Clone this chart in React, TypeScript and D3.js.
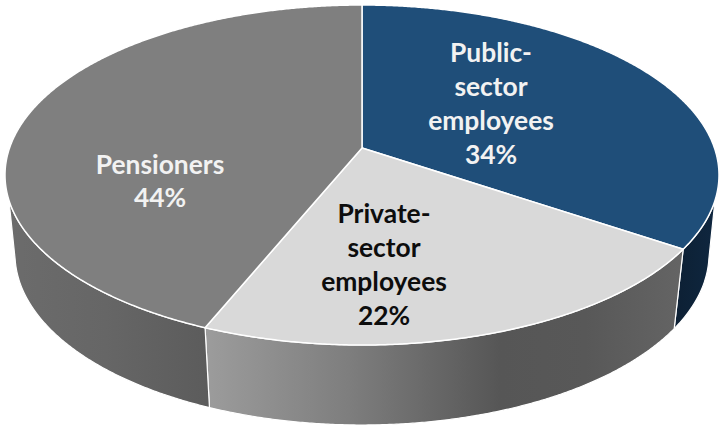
import React from "react";
import * as d3 from "d3";

const categories = ["Public-sector employees", "Private-sector employees", "Pensioners"];
const categoryLines = [["Public-", "sector", "employees"], ["Private-", "sector", "employees"], ["Pensioners"]];
const shares = [34.4, 21.8, 43.8];

const topColors = ["#1f4e79", "#d9d9d9", "#7f7f7f"];
const textColors = ["#f2f2f2", "#0d0d0d", "#f2f2f2"];

const W = 721, H = 427;
// Perspective of the disc: the pie centre sits above the centre of the ellipse.
const K = 0.159;
const VISIBLE_TOP = 0.147;
const VISIBLE_BOTTOM = 0.03;
const xTop = d3.scaleLinear().domain([-1, 1]).range([5, 719]);
const yTop = d3.scaleLinear().domain([-1, 1]).range([5, 345]);
const xBottom = d3.scaleLinear().domain([-1, 1]).range([15, 709]);
const yBottom = d3.scaleLinear().domain([-1, 1]).range([83, 425]);

const project = (theta: number): [number, number] => {
  const x = Math.sin(theta), y = -Math.cos(theta);
  const d = 1 - K * y;
  return [(x * Math.sqrt(1 - K * K)) / d, (y - K) / d];
};

const pieGen = d3.pie<number>().sort(null).startAngle(0).endAngle(2 * Math.PI);
const arcs = pieGen(shares);

const samples = (a: number, b: number) => {
  const n = Math.max(2, Math.ceil(((b - a) * 180) / Math.PI) * 3);
  return d3.range(n + 1).map((i) => project(a + ((b - a) * i) / n));
};

const topPath = (a: number, b: number) => {
  const pts: [number, number][] = samples(a, b).map(([x, y]) => [xTop(x), yTop(y)]);
  return d3.line()([[xTop(0), yTop(-K)], ...pts]) + "Z";
};

const wallPath = (a: number, b: number) => {
  const s = samples(a, b);
  const upper: [number, number][] = s.filter(([, y]) => y >= VISIBLE_TOP).map(([x, y]) => [xTop(x), yTop(y)]);
  const lower = s.filter(([, y]) => y >= VISIBLE_BOTTOM).map(([x, y]) => [xBottom(x), yBottom(y)]).reverse() as [number, number][];
  return d3.line()([...upper, ...lower]) + "Z";
};

const labelAnchors: { x: number; y: number }[] = [
  { x: 491, y: 62 },
  { x: 384, y: 223 },
  { x: 160, y: 174 },
];
const LINE_HEIGHT = 34;

export default function App() {
  return (
    <svg width={W} height={H} viewBox={`0 0 ${W} ${H}`} style={{ position: "absolute", left: 0, top: 0, background: "#fff" }}>
      <defs>
        <linearGradient id="wall0" gradientUnits="userSpaceOnUse" x1={675} x2={719} y1={0} y2={0}>
          <stop offset="0" stopColor="#0d2034" />
          <stop offset="1" stopColor="#0f2740" />
        </linearGradient>
        <linearGradient id="wall1" gradientUnits="userSpaceOnUse" x1={206} x2={680} y1={0} y2={0}>
          <stop offset="0" stopColor="#9c9c9c" />
          <stop offset="0.3" stopColor="#7e7e7e" />
          <stop offset="0.62" stopColor="#565656" />
          <stop offset="0.8" stopColor="#585858" />
          <stop offset="1" stopColor="#646464" />
        </linearGradient>
        <linearGradient id="wall2" gradientUnits="userSpaceOnUse" x1={5} x2={206} y1={0} y2={0}>
          <stop offset="0" stopColor="#6c6c6c" />
          <stop offset="0.5" stopColor="#666666" />
          <stop offset="1" stopColor="#5c5c5c" />
        </linearGradient>
      </defs>
      {arcs.map((d, i) => (
        <path key={`w${i}`} d={wallPath(d.startAngle, d.endAngle)} fill={`url(#wall${i})`} stroke="#fff" strokeWidth={1.2} strokeLinejoin="round" />
      ))}
      {arcs.map((d, i) => (
        <path key={categories[i]} d={topPath(d.startAngle, d.endAngle)} fill={topColors[i]} stroke="#fff" strokeWidth={1.5} strokeLinejoin="round" />
      ))}
      {arcs.map((d, i) => (
        <text key={`t${i}`} textAnchor="middle" fontFamily="Lato, 'Open Sans', sans-serif" fontWeight={700} fontSize={26.4} fill={textColors[i]}>
          {[...categoryLines[i], `${Math.round(d.data)}%`].map((s, j) => (
            <tspan key={j} x={labelAnchors[i].x} y={labelAnchors[i].y + j * (i === 2 ? 33 : LINE_HEIGHT)}>{s}</tspan>
          ))}
        </text>
      ))}
    </svg>
  );
}
